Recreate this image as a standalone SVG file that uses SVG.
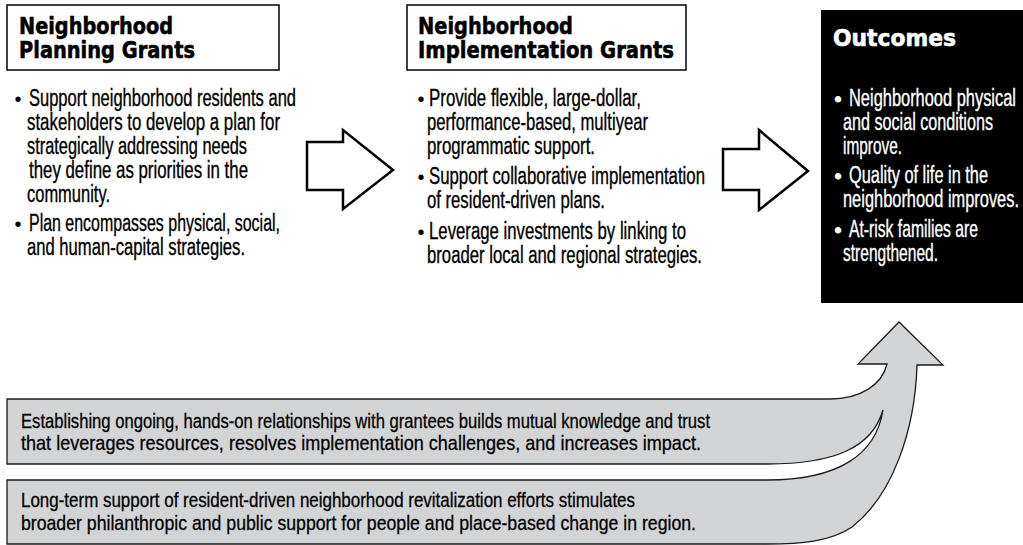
<svg xmlns="http://www.w3.org/2000/svg" width="1023" height="545" viewBox="0 0 1023 545">
  <style>
    .box { fill: #ffffff; stroke: #000000; stroke-width: 1.5; }
    .title { font-family: "DejaVu Sans", "Liberation Sans", sans-serif; font-weight: bold; font-size: 23px; fill: #000000; stroke: #000000; stroke-width: 0.6; }
    .body { font-family: "Liberation Sans", Arial, sans-serif; font-size: 23px; fill: #000000; stroke: #000000; stroke-width: 0.35; }
    .band { font-family: "Liberation Sans", Arial, sans-serif; font-size: 21px; fill: #000000; stroke: #000000; stroke-width: 0.3; }
    .bul { font-family: "Liberation Sans", Arial, sans-serif; font-size: 20px; text-anchor: middle; fill: #000000; }
    .blk { fill: #ffffff; stroke: #000000; stroke-width: 2.5; stroke-linejoin: miter; }
    .white { fill: #ffffff; stroke: #ffffff; }
  </style>

  <g id="connectors">
    <path id="arrow-planning-implementation" class="blk" d="M307,142 H343 V130 L393,170 L343,209 V190 H307 Z"/>
    <path id="arrow-implementation-outcomes" class="blk" d="M723,149 H759 V130 L808,171 L759,210 V190 H723 Z"/>
    <path id="arrow-feedback" fill="#d3d4d6" stroke="#1a1a1a" stroke-width="1.3" stroke-linejoin="miter"
      d="M7,399 H830 C860,399 882,385 887,364 L858,364 L899,322 L943,365 L917,365 C915,430 893,495 852,527 C830,542 800,544 767,544 H7 V480 H767 C838,480 876,455 883,410 C872,448 834,464 767,464 H7 Z"/>
  </g>

  <g id="node-planning">
    <rect class="box" x="7" y="5" width="272" height="65"/>
    <text class="title" x="19" y="34" textLength="154" lengthAdjust="spacingAndGlyphs">Neighborhood</text>
    <text class="title" x="19" y="57.5" textLength="176" lengthAdjust="spacingAndGlyphs">Planning Grants</text>
    <text class="bul" x="18" y="106">•</text>
    <text class="body" x="29" y="106" textLength="267" lengthAdjust="spacingAndGlyphs">Support neighborhood residents and</text>
    <text class="body" x="27" y="130" textLength="253" lengthAdjust="spacingAndGlyphs">stakeholders to develop a plan for</text>
    <text class="body" x="27" y="154" textLength="220" lengthAdjust="spacingAndGlyphs">strategically addressing needs</text>
    <text class="body" x="29" y="178" textLength="219" lengthAdjust="spacingAndGlyphs">they define as priorities in the</text>
    <text class="body" x="27" y="202" textLength="83" lengthAdjust="spacingAndGlyphs">community.</text>
    <text class="bul" x="18" y="231">•</text>
    <text class="body" x="29" y="231" textLength="251" lengthAdjust="spacingAndGlyphs">Plan encompasses physical, social,</text>
    <text class="body" x="27" y="255" textLength="218" lengthAdjust="spacingAndGlyphs">and human-capital strategies.</text>
  </g>

  <g id="node-implementation">
    <rect class="box" x="407" y="5" width="279" height="65"/>
    <text class="title" x="418" y="34" textLength="155" lengthAdjust="spacingAndGlyphs">Neighborhood</text>
    <text class="title" x="418" y="57.5" textLength="256" lengthAdjust="spacingAndGlyphs">Implementation Grants</text>
    <text class="bul" x="421" y="106">•</text>
    <text class="body" x="429" y="106" textLength="212" lengthAdjust="spacingAndGlyphs">Provide flexible, large-dollar,</text>
    <text class="body" x="427" y="130" textLength="221" lengthAdjust="spacingAndGlyphs">performance-based, multiyear</text>
    <text class="body" x="427" y="154" textLength="168" lengthAdjust="spacingAndGlyphs">programmatic support.</text>
    <text class="bul" x="421" y="184">•</text>
    <text class="body" x="429" y="184" textLength="276" lengthAdjust="spacingAndGlyphs">Support collaborative implementation</text>
    <text class="body" x="427" y="208" textLength="178" lengthAdjust="spacingAndGlyphs">of resident-driven plans.</text>
    <text class="bul" x="421" y="239">•</text>
    <text class="body" x="429" y="239" textLength="257" lengthAdjust="spacingAndGlyphs">Leverage investments by linking to</text>
    <text class="body" x="427" y="263" textLength="275" lengthAdjust="spacingAndGlyphs">broader local and regional strategies.</text>
  </g>

  <g id="node-outcomes">
    <rect x="821" y="10" width="202" height="293" fill="#000000"/>
    <text class="title white" x="833" y="46" font-size="25" textLength="123" lengthAdjust="spacingAndGlyphs">Outcomes</text>
    <text class="bul white" x="838" y="106">•</text>
    <text class="body white" x="849" y="106" font-size="23" textLength="167" lengthAdjust="spacingAndGlyphs">Neighborhood physical</text>
    <text class="body white" x="843" y="130" font-size="23" textLength="150" lengthAdjust="spacingAndGlyphs">and social conditions</text>
    <text class="body white" x="843" y="154" font-size="23" textLength="59" lengthAdjust="spacingAndGlyphs">improve.</text>
    <text class="bul white" x="838" y="183">•</text>
    <text class="body white" x="849" y="183" font-size="23" textLength="139" lengthAdjust="spacingAndGlyphs">Quality of life in the</text>
    <text class="body white" x="843" y="207" font-size="23" textLength="176" lengthAdjust="spacingAndGlyphs">neighborhood improves.</text>
    <text class="bul white" x="838" y="237">•</text>
    <text class="body white" x="849" y="237" font-size="23" textLength="129" lengthAdjust="spacingAndGlyphs">At-risk families are</text>
    <text class="body white" x="843" y="261" font-size="23" textLength="95" lengthAdjust="spacingAndGlyphs">strengthened.</text>
  </g>

  <g id="note-relationships">
    <text class="band" x="21" y="427.5" textLength="689" lengthAdjust="spacingAndGlyphs">Establishing ongoing, hands-on relationships with grantees builds mutual knowledge and trust</text>
    <text class="band" x="21" y="450" textLength="680" lengthAdjust="spacingAndGlyphs">that leverages resources, resolves implementation challenges, and increases impact.</text>
  </g>

  <g id="note-support">
    <text class="band" x="21" y="507" textLength="614" lengthAdjust="spacingAndGlyphs">Long-term support of resident-driven neighborhood revitalization efforts stimulates</text>
    <text class="band" x="21" y="529.5" textLength="675" lengthAdjust="spacingAndGlyphs">broader philanthropic and public support for people and place-based change in region.</text>
  </g>
</svg>
